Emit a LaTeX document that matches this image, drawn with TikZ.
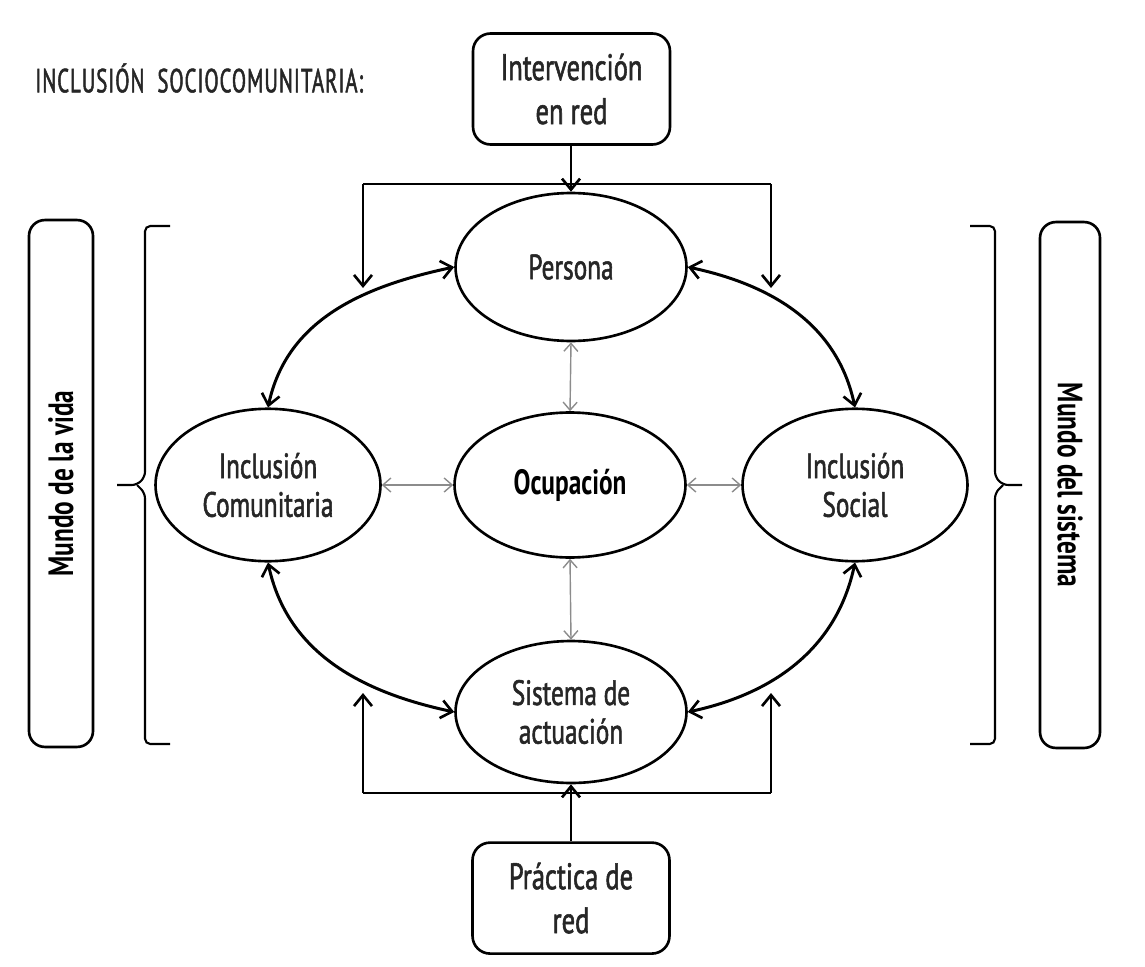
\documentclass[tikz,border=0pt]{standalone}
\usepackage{fontspec}
\setmainfont{PT Sans}[FakeStretch=0.72]
\newfontfamily\dfont{PT Sans}[FakeStretch=0.72,FakeBold=1.5]
\usetikzlibrary{arrows.meta,positioning,shapes.geometric}

\begin{document}
\begin{tikzpicture}[x=0.02cm,y=-0.02cm,
ell/.style={ellipse,draw,line width=1.5pt,minimum width=4.62cm,minimum height=2.9cm,align=center,inner sep=0pt,font=\dfont\fontsize{20}{22}\selectfont,text=black!85},
rbox/.style={draw,line width=1.5pt,rounded corners=10pt,align=center,inner sep=0pt,minimum width=3.94cm,minimum height=2.22cm,font=\dfont\fontsize{21}{25}\selectfont,text=black!85},
side/.style={draw,line width=1.5pt,rounded corners=9pt,inner sep=0pt,font=\bfseries\fontsize{20}{22}\selectfont},
barb/.tip={Straight Barb[length=2.2mm,width=3.6mm,line width=1.5pt]},
gbarb/.tip={Straight Barb[length=1.6mm,width=2.8mm]},
arr/.style={-barb,line width=1.3pt},
biarr/.style={barb-barb,line width=1.7pt},
garr/.style={gbarb-gbarb,draw=black!45,line width=0.8pt},
lin/.style={line width=1.3pt},
brk/.style={line width=1.2pt,rounded corners=3pt}]
\useasboundingbox (0,0) rectangle (1145,966);
% title
\node[anchor=west,inner sep=0pt,font=\dfont\fontsize{19}{20}\selectfont\addfontfeature{LetterSpace=3,FakeStretch=0.62},text=black!85] (title) at (35,78) {INCLUSIÓN\ \ SOCIOCOMUNITARIA:};
% ellipses
\node[ell,font=\bfseries\fontsize{20}{22}\selectfont,text=black,minimum height=2.9cm] (ocup) at (570,485) {Ocupación};
\node[ell,minimum height=2.96cm] (persona) at (571,267) {Persona};
\node[ell,minimum height=2.84cm] (sist) at (571,712) {Sistema de\\actuación};
\node[ell,minimum width=4.5cm,minimum height=3.05cm] (icom) at (268,485) {Inclusión\\Comunitaria};
\node[ell,minimum width=4.5cm,minimum height=3.05cm] (isoc) at (855,485) {Inclusión\\Social};
% boxes
\node[rbox] (red) at (571.5,89) {Intervención\\en red};
\node[rbox,below=1.14cm of sist] (prac) {Práctica de\\red};
\node[side,rotate=90,minimum width=10.54cm,minimum height=1.28cm] (vida) at (61,483.5) {Mundo de la vida};
\node[side,rotate=-90,minimum width=10.52cm,minimum height=1.2cm] (msis) at (1070,485) {Mundo del sistema};
% brackets
\draw[brk] (170,226) -- (145,226) -- (145,477) -- (137,485) -- (117,485);
\draw[brk] (137,485) -- (145,493) -- (145,744) -- (170,744);
\draw[brk] (970,226) -- (995,226) -- (995,477) -- (1003,485) -- (1022,485);
\draw[brk] (1003,485) -- (995,493) -- (995,744) -- (970,744);
% top and bottom feeds
\coordinate (tl) at (363,184); \coordinate (tr) at (771,184);
\coordinate (tlend) at (363,288); \coordinate (trend) at (771,288);
\coordinate (bl) at (363,793); \coordinate (br) at (771,793);
\coordinate (blend) at (363,693); \coordinate (brend) at (771,693);
\draw[arr] (persona.north |- red.south) -- (persona.north);
\draw[lin] (tl) -- (tr);
\draw[arr] (tl) -- (tlend);
\draw[arr] (tr) -- (trend);
\draw[arr] (prac.north) -- (sist.south);
\draw[lin] (bl) -- (br);
\draw[arr] (bl) -- (blend);
\draw[arr] (br) -- (brend);
% outer ring
\draw[biarr] (persona.west) to[out=192,in=78] (icom.north);
\draw[biarr] (icom.south) to[out=-78,in=168] (sist.west);
\draw[biarr] (persona.east) to[out=-12,in=102] (isoc.north);
\draw[biarr] (isoc.south) to[out=-102,in=12] (sist.east);
% inner links
\draw[garr] (persona.south) -- (ocup.north);
\draw[garr] (ocup.south) -- (sist.north);
\draw[garr] (icom.east |- ocup.west) -- (ocup.west);
\draw[garr] (ocup.east) -- (isoc.west |- ocup.east);
\end{tikzpicture}
\end{document}
